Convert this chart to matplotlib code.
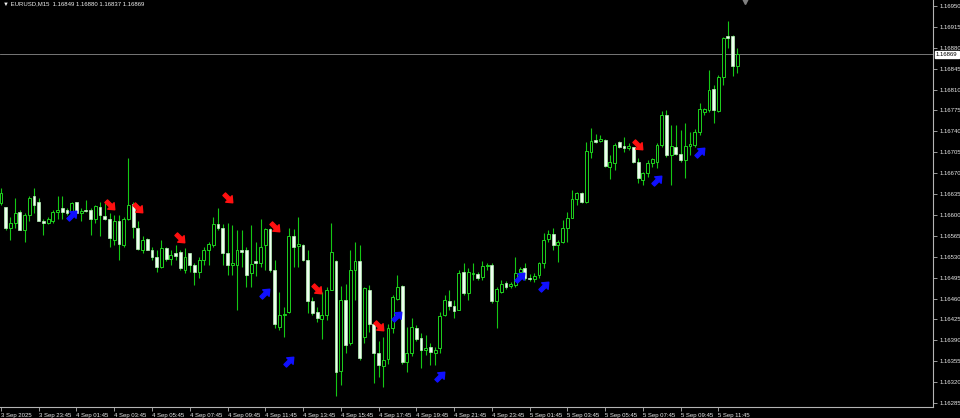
import numpy as np
import matplotlib
matplotlib.use("Agg")
import matplotlib.pyplot as plt
from matplotlib.path import Path
from matplotlib.transforms import blended_transform_factory

plt.rcParams['font.family'] = ['Liberation Sans', 'DejaVu Sans']

symbol = "EURUSD,M15"

# OHLC, M15 bars from 3 Sep 21:45 to 5 Sep 12:45
opens = [
    1.16620, 1.16613, 1.16578, 1.16587, 1.16605, 1.16575, 1.16600, 1.16631, 1.16622, 1.16590,
    1.16586, 1.16590, 1.16605, 1.16611, 1.16608, 1.16605, 1.16622, 1.16603, 1.16609, 1.16608,
    1.16593, 1.16614, 1.16598, 1.16594, 1.16558, 1.16590, 1.16550, 1.16594, 1.16618, 1.16578,
    1.16541, 1.16559, 1.16542, 1.16530, 1.16512, 1.16544, 1.16526, 1.16536, 1.16538, 1.16508,
    1.16536, 1.16516, 1.16505, 1.16525, 1.16541, 1.16550, 1.16585, 1.16578, 1.16536, 1.16516,
    1.16516, 1.16542, 1.16541, 1.16502, 1.16522, 1.16519, 1.16550, 1.16576, 1.16508, 1.16413,
    1.16432, 1.16438, 1.16565, 1.16548, 1.16550, 1.16525, 1.16455, 1.16438, 1.16425, 1.16432,
    1.16475, 1.16522, 1.16339, 1.16458, 1.16385, 1.16507, 1.16522, 1.16395, 1.16475, 1.16417,
    1.16368, 1.16347, 1.16358, 1.16410, 1.16460, 1.16481, 1.16354, 1.16368, 1.16411, 1.16394,
    1.16374, 1.16378, 1.16368, 1.16377, 1.16432, 1.16456, 1.16447, 1.16441, 1.16505, 1.16470,
    1.16501, 1.16501, 1.16496, 1.16514, 1.16516, 1.16456, 1.16471, 1.16486, 1.16481, 1.16483,
    1.16504, 1.16511, 1.16494, 1.16493, 1.16499, 1.16519, 1.16560, 1.16568, 1.16550, 1.16555,
    1.16578, 1.16595, 1.16627, 1.16637, 1.16622, 1.16705, 1.16726, 1.16724, 1.16726, 1.16680,
    1.16687, 1.16722, 1.16715, 1.16712, 1.16714, 1.16689, 1.16658, 1.16670, 1.16687, 1.16689,
    1.16717, 1.16767, 1.16700, 1.16714, 1.16702, 1.16692, 1.16715, 1.16717, 1.16739, 1.16772,
    1.16776, 1.16811, 1.16774, 1.16831, 1.16900, 1.16900, 1.16849,
]
highs = [
    1.16645, 1.16613, 1.16597, 1.16628, 1.16608, 1.16603, 1.16631, 1.16645, 1.16628, 1.16594,
    1.16597, 1.16608, 1.16631, 1.16632, 1.16611, 1.16622, 1.16622, 1.16611, 1.16625, 1.16611,
    1.16617, 1.16622, 1.16620, 1.16603, 1.16600, 1.16600, 1.16597, 1.16695, 1.16622, 1.16589,
    1.16565, 1.16561, 1.16547, 1.16541, 1.16558, 1.16547, 1.16541, 1.16550, 1.16541, 1.16544,
    1.16537, 1.16520, 1.16530, 1.16547, 1.16555, 1.16597, 1.16611, 1.16585, 1.16586, 1.16583,
    1.16575, 1.16575, 1.16547, 1.16583, 1.16555, 1.16594, 1.16578, 1.16578, 1.16525, 1.16471,
    1.16446, 1.16578, 1.16576, 1.16597, 1.16552, 1.16541, 1.16463, 1.16445, 1.16471, 1.16480,
    1.16586, 1.16525, 1.16481, 1.16485, 1.16541, 1.16555, 1.16550, 1.16480, 1.16483, 1.16421,
    1.16388, 1.16396, 1.16418, 1.16466, 1.16499, 1.16483, 1.16413, 1.16427, 1.16416, 1.16402,
    1.16399, 1.16385, 1.16379, 1.16438, 1.16466, 1.16475, 1.16458, 1.16508, 1.16519, 1.16511,
    1.16519, 1.16505, 1.16522, 1.16519, 1.16519, 1.16479, 1.16491, 1.16489, 1.16488, 1.16530,
    1.16513, 1.16519, 1.16501, 1.16503, 1.16521, 1.16570, 1.16575, 1.16578, 1.16558, 1.16592,
    1.16605, 1.16642, 1.16638, 1.16638, 1.16722, 1.16746, 1.16736, 1.16734, 1.16727, 1.16700,
    1.16720, 1.16724, 1.16731, 1.16720, 1.16714, 1.16695, 1.16672, 1.16692, 1.16695, 1.16720,
    1.16774, 1.16776, 1.16751, 1.16751, 1.16742, 1.16754, 1.16739, 1.16744, 1.16787, 1.16779,
    1.16843, 1.16818, 1.16834, 1.16898, 1.16924, 1.16901, 1.16880,
]
lows = [
    1.16617, 1.16575, 1.16558, 1.16578, 1.16575, 1.16555, 1.16589, 1.16603, 1.16589, 1.16566,
    1.16585, 1.16587, 1.16594, 1.16594, 1.16600, 1.16603, 1.16603, 1.16590, 1.16605, 1.16566,
    1.16586, 1.16564, 1.16592, 1.16547, 1.16550, 1.16525, 1.16547, 1.16592, 1.16561, 1.16541,
    1.16536, 1.16541, 1.16525, 1.16505, 1.16511, 1.16522, 1.16516, 1.16525, 1.16508, 1.16502,
    1.16505, 1.16483, 1.16494, 1.16516, 1.16516, 1.16547, 1.16575, 1.16516, 1.16499, 1.16499,
    1.16441, 1.16513, 1.16480, 1.16480, 1.16497, 1.16513, 1.16508, 1.16505, 1.16410, 1.16407,
    1.16396, 1.16435, 1.16513, 1.16513, 1.16522, 1.16435, 1.16432, 1.16421, 1.16393, 1.16424,
    1.16474, 1.16296, 1.16315, 1.16368, 1.16382, 1.16458, 1.16357, 1.16385, 1.16404, 1.16318,
    1.16329, 1.16312, 1.16351, 1.16402, 1.16458, 1.16351, 1.16337, 1.16363, 1.16388, 1.16343,
    1.16365, 1.16349, 1.16349, 1.16368, 1.16430, 1.16441, 1.16427, 1.16440, 1.16466, 1.16458,
    1.16491, 1.16491, 1.16491, 1.16508, 1.16452, 1.16411, 1.16469, 1.16476, 1.16478, 1.16479,
    1.16494, 1.16491, 1.16489, 1.16488, 1.16494, 1.16511, 1.16555, 1.16541, 1.16521, 1.16553,
    1.16555, 1.16595, 1.16617, 1.16620, 1.16620, 1.16695, 1.16720, 1.16722, 1.16680, 1.16660,
    1.16675, 1.16712, 1.16705, 1.16709, 1.16687, 1.16653, 1.16650, 1.16664, 1.16680, 1.16679,
    1.16714, 1.16697, 1.16650, 1.16700, 1.16689, 1.16662, 1.16700, 1.16714, 1.16734, 1.16767,
    1.16772, 1.16754, 1.16772, 1.16818, 1.16879, 1.16832, 1.16837,
]
closes = [
    1.16636, 1.16578, 1.16587, 1.16604, 1.16575, 1.16600, 1.16628, 1.16617, 1.16589, 1.16586,
    1.16593, 1.16605, 1.16609, 1.16605, 1.16603, 1.16620, 1.16603, 1.16607, 1.16607, 1.16594,
    1.16615, 1.16600, 1.16593, 1.16561, 1.16589, 1.16551, 1.16594, 1.16617, 1.16579, 1.16543,
    1.16558, 1.16541, 1.16530, 1.16513, 1.16544, 1.16526, 1.16533, 1.16531, 1.16511, 1.16530,
    1.16516, 1.16505, 1.16525, 1.16542, 1.16551, 1.16585, 1.16578, 1.16536, 1.16516, 1.16519,
    1.16542, 1.16538, 1.16499, 1.16518, 1.16519, 1.16547, 1.16576, 1.16507, 1.16418, 1.16432,
    1.16434, 1.16564, 1.16547, 1.16551, 1.16525, 1.16455, 1.16436, 1.16427, 1.16432, 1.16474,
    1.16538, 1.16337, 1.16458, 1.16382, 1.16508, 1.16522, 1.16360, 1.16477, 1.16417, 1.16369,
    1.16349, 1.16357, 1.16410, 1.16462, 1.16480, 1.16354, 1.16368, 1.16413, 1.16393, 1.16374,
    1.16377, 1.16370, 1.16374, 1.16431, 1.16458, 1.16447, 1.16439, 1.16503, 1.16469, 1.16505,
    1.16503, 1.16494, 1.16514, 1.16516, 1.16455, 1.16476, 1.16484, 1.16479, 1.16484, 1.16503,
    1.16509, 1.16494, 1.16493, 1.16498, 1.16519, 1.16558, 1.16568, 1.16550, 1.16555, 1.16578,
    1.16595, 1.16627, 1.16637, 1.16622, 1.16707, 1.16724, 1.16722, 1.16727, 1.16682, 1.16689,
    1.16717, 1.16714, 1.16712, 1.16715, 1.16689, 1.16662, 1.16670, 1.16687, 1.16694, 1.16717,
    1.16767, 1.16700, 1.16715, 1.16702, 1.16692, 1.16715, 1.16719, 1.16739, 1.16777, 1.16777,
    1.16809, 1.16776, 1.16831, 1.16896, 1.16897, 1.16849, 1.16869,
]

# time axis labels, one every 8 bars
time_labels = [
    "3 Sep 2025", "3 Sep 23:45", "4 Sep 01:45", "4 Sep 03:45", "4 Sep 05:45",
    "4 Sep 07:45", "4 Sep 09:45", "4 Sep 11:45", "4 Sep 13:45", "4 Sep 15:45",
    "4 Sep 17:45", "4 Sep 19:45", "4 Sep 21:45", "4 Sep 23:45", "5 Sep 01:45",
    "5 Sep 03:45", "5 Sep 05:45", "5 Sep 07:45", "5 Sep 09:45", "5 Sep 11:45",
]

# indicator signals (bar index, price)
sell_bars = [23, 29, 38, 48, 58, 67, 80, 135]
sell_prices = [1.16617, 1.16612, 1.16561, 1.16628, 1.16580, 1.16476, 1.16414, 1.16717]
buy_bars = [15, 56, 61, 84, 93, 110, 115, 139, 148]
buy_prices = [1.16600, 1.16469, 1.16355, 1.16431, 1.16330, 1.16496, 1.16481, 1.16658, 1.16705]


def arrow_marker(deg):
    pts = np.array([(-1, -0.3), (0.1, -0.3), (0.1, -0.75), (1, 0),
                    (0.1, 0.75), (0.1, 0.3), (-1, 0.3), (-1, -0.3)])
    t = np.deg2rad(deg)
    rot = np.array([[np.cos(t), -np.sin(t)], [np.sin(t), np.cos(t)]])
    return Path(pts @ rot.T, closed=True)


def main():
    o = np.array(opens); h = np.array(highs); l = np.array(lows); c = np.array(closes)
    x = np.arange(len(o))
    up = c >= o

    fig = plt.figure(figsize=(9.6, 4.18), dpi=100, facecolor="black")
    ax = fig.add_axes([0, 11 / 418, 933 / 960, 407 / 418])
    ax.set_facecolor("black")

    # bid line
    ax.axhline(c[-1], color="#8a8a8a", lw=0.6, zorder=0)

    ax.vlines(x, l, h, color="#14c814", lw=0.8, zorder=1)
    bot = np.minimum(o, c)
    hgt = np.maximum(np.abs(c - o), 0.000006)
    ax.bar(x[up], hgt[up], bottom=bot[up], width=0.6, color="black",
           edgecolor="#1ed21e", lw=0.7, zorder=2)
    ax.bar(x[~up], hgt[~up], bottom=bot[~up], width=0.6, color="#eefff0",
           edgecolor="#b8f5b8", lw=0.5, zorder=2)

    ax.plot(buy_bars, buy_prices, ls="none", marker=arrow_marker(45), ms=8,
            color="#1010ff", mec="#1010ff", zorder=3)
    ax.plot(sell_bars, sell_prices, ls="none", marker=arrow_marker(-45), ms=8,
            color="#ff1010", mec="#ff1010", zorder=3)

    ax.set_xlim(-0.2, 933 / 4.72 - 0.2)
    ax.set_ylim(1.169600 - 407 * 0.00001675, 1.169600)

    for s in ("top", "left"):
        ax.spines[s].set_visible(False)
    for s in ("right", "bottom"):
        ax.spines[s].set_color("#b4b4b4")
        ax.spines[s].set_linewidth(0.8)

    yt = 1.16285 + 0.00035 * np.arange(20)
    ax.yaxis.tick_right()
    ax.set_yticks(yt)
    ax.set_yticklabels([f"{v:.5f}" for v in yt])
    ax.tick_params(axis="y", colors="#b4b4b4", labelcolor="#e8e8e8",
                   labelsize=4.3, length=3, width=0.6, pad=1.5)

    ax.set_xticks(np.arange(0, len(o), 8))
    ax.set_xticklabels(time_labels, ha="left")
    ax.tick_params(axis="x", colors="#b4b4b4", labelcolor="#e8e8e8",
                   labelsize=4.3, length=3, width=0.6, pad=1.5)

    tr = blended_transform_factory(ax.transAxes, ax.transData)
    ax.text(1.003, c[-1], f"{c[-1]:.5f}", transform=tr, ha="left", va="center",
            fontsize=4.3, color="black",
            bbox=dict(boxstyle="square,pad=0.2", fc="white", ec="white"))

    ax.text(0.003, 0.997,
            f"\u25bc {symbol}  {o[-1]:.5f} {h[-1]:.5f} {l[-1]:.5f} {c[-1]:.5f}",
            transform=ax.transAxes, ha="left", va="top", fontsize=4.3,
            color="#f0f0f0")
    # chart shift marker
    ax.plot([0.7985], [0.997], transform=ax.transAxes, marker="v", ms=4,
            color="#808080", clip_on=False)

    fig.savefig("out.png", dpi=100, facecolor="black")


if __name__ == "__main__":
    main()
